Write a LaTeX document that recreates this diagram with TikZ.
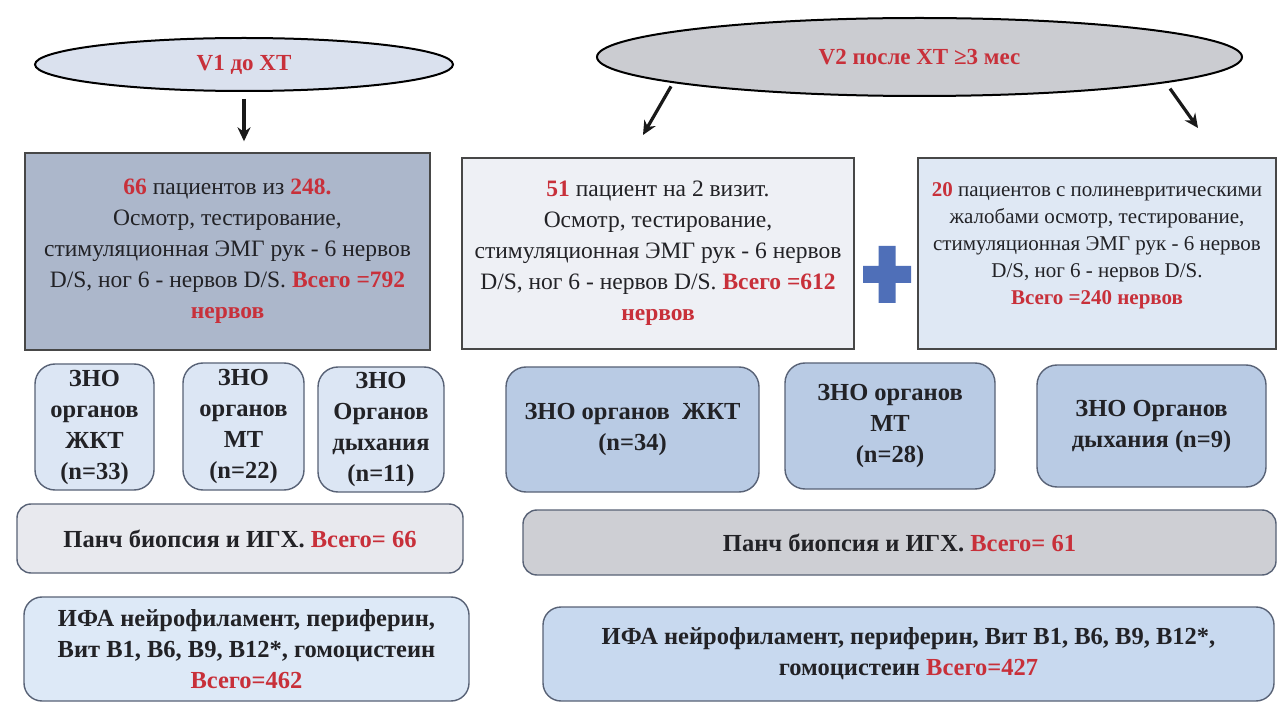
\documentclass[tikz,border=0pt]{standalone}
\usepackage{fontspec}
\setmainfont{Liberation Serif}
\usepackage{xcolor}
\usetikzlibrary{shapes.geometric, arrows.meta, positioning, calc}
\definecolor{rd}{RGB}{200,48,58}
\definecolor{txt}{RGB}{34,34,38}
\definecolor{ovA}{RGB}{218,225,238}
\definecolor{ovB}{RGB}{203,204,209}
\definecolor{bxA}{RGB}{172,183,203}
\definecolor{bxB}{RGB}{238,240,245}
\definecolor{bxC}{RGB}{223,232,244}
\definecolor{sbA}{RGB}{220,230,244}
\definecolor{sbB}{RGB}{185,203,228}
\definecolor{pbA}{RGB}{232,233,238}
\definecolor{pbB}{RGB}{206,207,212}
\definecolor{fbA}{RGB}{221,233,247}
\definecolor{fbB}{RGB}{200,217,239}
\definecolor{edg}{RGB}{88,98,118}
\definecolor{plus}{RGB}{79,111,184}
\newcommand{\rt}[1]{{\color{rd}\bfseries #1}}

\begin{document}
\begin{tikzpicture}[x=1pt,y=-1pt]
\tikzset{
  ov/.style={ellipse,draw=black,line width=2pt,inner sep=0pt,text=rd,font=\fontsize{23}{28}\selectfont\bfseries},
  bx/.style={rectangle,draw=black!72,line width=1.4pt,align=center,inner sep=0pt,text=txt,font=\fontsize{23.5}{31}\selectfont},
  sb/.style={rectangle,rounded corners=20pt,draw=edg,line width=1.4pt,align=center,inner sep=0pt,text=txt,font=\fontsize{24.5}{31}\selectfont\bfseries},
  ar/.style={-{Stealth[length=14pt,width=13pt]},line width=3.2pt,draw=black!90}
}
\useasboundingbox (0,0) rectangle (1278,703);
\fill[white] (0,0) rectangle (1278,703);

\node[ov,fill=ovA,minimum width=418pt,minimum height=53pt] (v1) at (244,64.5) {V1 до XT};
\node[ov,fill=ovB,minimum width=645pt,minimum height=78pt] (v2) at (919.5,57) {V2 после XT ≥3 мес};

\node[bx,fill=bxA,minimum width=405pt,minimum height=197pt] (b1) at (227.5,251.5)
  {\rt{66} пациентов из \rt{248.}\\ Осмотр, тестирование,\\ стимуляционная ЭМГ рук - 6 нервов\\ D/S, ног 6 - нервов D/S. \rt{Всего =792}\\ \rt{нервов}};
\node[bx,fill=bxB,minimum width=392pt,minimum height=191pt] (b2) at (658,253.5)
  {\rt{51} пациент на 2 визит.\\ Осмотр, тестирование,\\ стимуляционная ЭМГ рук - 6 нервов\\ D/S, ног 6 - нервов D/S. \rt{Всего =612}\\ \rt{нервов}};
\node[bx,fill=bxC,minimum width=358pt,minimum height=191pt,font=\fontsize{21}{27}\selectfont] (b3) at (1097,253.5)
  {\rt{20} пациентов с полиневритическими\\ жалобами осмотр, тестирование,\\ стимуляционная ЭМГ рук - 6 нервов\\ D/S, ног 6 - нервов D/S.\\ \rt{Всего =240 нервов}\\[-8pt]\mbox{}};

\fill[plus] (878.5,246) -- (895.5,246) -- (895.5,266) -- (911,266) -- (911,283) -- (895.5,283) -- (895.5,303) -- (878.5,303) -- (878.5,283) -- (863,283) -- (863,266) -- (878.5,266) -- cycle;

\coordinate (a0) at ($(v1.south)+(0,7)$);
\coordinate (a1) at ($(a0 |- b1.north)+(0,-11)$);
\coordinate (t1) at (643,135);
\coordinate (t2) at (1198,128);
\draw[ar] (a0) -- (a1);
\draw[ar,shorten <=4pt] (v2.186) -- (t1);
\draw[ar,shorten <=7pt] (v2.354) -- (t2);

\node[sb,fill=sbA,minimum width=119pt,minimum height=126pt] (s1) at (94.5,427) {ЗНО\\ органов\\ ЖКТ\\ (n=33)};
\node[sb,fill=sbA,minimum width=121pt,minimum height=127pt] (s2) at (243.5,426.5) {ЗНО\\ органов\\ МТ\\ (n=22)};
\node[sb,fill=sbA,minimum width=126pt,minimum height=125pt] (s3) at (381,429.5) {ЗНО\\ Органов\\ дыхания\\ (n=11)};
\node[sb,fill=sbB,minimum width=253pt,minimum height=125pt] (s4) at (632.5,429.5) {ЗНО органов~~ЖКТ\\ (n=34)};
\node[sb,fill=sbB,minimum width=210pt,minimum height=126pt] (s5) at (890,426) {ЗНО органов\\ МТ\\ (n=28)};
\node[sb,fill=sbB,minimum width=229pt,minimum height=122pt] (s6) at (1151.5,426) {ЗНО Органов\\ дыхания (n=9)};

\node[sb,rounded corners=14pt,fill=pbA,minimum width=446pt,minimum height=69pt] (p1) at (240,538.5) {Панч биопсия и ИГХ. \rt{Всего= 66}};
\node[sb,rounded corners=14pt,fill=pbB,minimum width=753pt,minimum height=65pt] (p2) at (899.5,542.5) {Панч биопсия и ИГХ. \rt{Всего= 61}};

\node[sb,rounded corners=18pt,fill=fbA,minimum width=445pt,minimum height=104pt] (f1) at (246.5,649) {ИФА нейрофиламент, периферин,\\ Вит В1, В6, В9, В12*, гомоцистеин\\ \rt{Всего=462}};
\node[sb,rounded corners=18pt,fill=fbB,minimum width=731pt,minimum height=94pt] (f2) at (908.5,654) {ИФА нейрофиламент, периферин, Вит В1, В6, В9, В12*,\\ гомоцистеин \rt{Всего=427}};
\end{tikzpicture}
\end{document}
